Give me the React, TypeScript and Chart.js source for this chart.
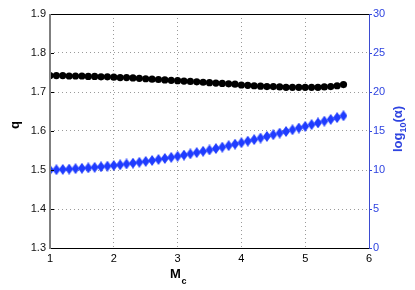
import React, { useEffect, useRef } from 'react';
import { Chart, registerables } from 'chart.js';
Chart.register(...registerables);

const mcValues = [
  1.0, 1.1, 1.2, 1.3, 1.4, 1.5, 1.6, 1.7, 1.8, 1.9,
  2.0, 2.1, 2.2, 2.3, 2.4, 2.5, 2.6, 2.7, 2.8, 2.9,
  3.0, 3.1, 3.2, 3.3, 3.4, 3.5, 3.6, 3.7, 3.8, 3.9,
  4.0, 4.1, 4.2, 4.3, 4.4, 4.5, 4.6, 4.7, 4.8, 4.9,
  5.0, 5.1, 5.2, 5.3, 5.4, 5.5, 5.6,
];
const qValues = [
  1.742, 1.742, 1.742, 1.741, 1.741, 1.741, 1.740, 1.740, 1.739, 1.739,
  1.738, 1.737, 1.737, 1.736, 1.735, 1.734, 1.733, 1.732, 1.731, 1.730,
  1.729, 1.728, 1.727, 1.726, 1.725, 1.724, 1.723, 1.722, 1.721, 1.720,
  1.718, 1.717, 1.716, 1.715, 1.714, 1.714, 1.713, 1.712, 1.712, 1.712,
  1.712, 1.712, 1.712, 1.713, 1.714, 1.716, 1.719,
];
const logAlphaValues = [
  10.00, 10.04, 10.08, 10.12, 10.17, 10.22, 10.28, 10.34, 10.41, 10.49,
  10.58, 10.67, 10.77, 10.88, 10.99, 11.10, 11.22, 11.35, 11.48, 11.62,
  11.76, 11.91, 12.07, 12.23, 12.40, 12.57, 12.75, 12.93, 13.12, 13.31,
  13.50, 13.70, 13.90, 14.10, 14.31, 14.52, 14.73, 14.94, 15.16, 15.38,
  15.60, 15.82, 16.04, 16.26, 16.49, 16.72, 16.95,
];
const xTicks = [1, 2, 3, 4, 5, 6];
const qTicks = [1.3, 1.4, 1.5, 1.6, 1.7, 1.8, 1.9];
const alphaTicks = [0, 5, 10, 15, 20, 25, 30];

const BLUE = '#1f3cff';
const BLUE_TEXT = '#2f44e0';
const FONT = '"Liberation Sans", Arial, Helvetica, sans-serif';

function makeDiamond(): HTMLCanvasElement {
  const c = document.createElement('canvas');
  c.width = 8;
  c.height = 11;
  const g = c.getContext('2d')!;
  g.fillStyle = BLUE;
  g.beginPath();
  g.moveTo(4, 0);
  g.lineTo(8, 5.5);
  g.lineTo(4, 11);
  g.lineTo(0, 5.5);
  g.closePath();
  g.fill();
  return c;
}

const framePlugin = {
  id: 'frame',
  afterDraw(chart: any) {
    const { ctx, chartArea } = chart;
    const { left, right, top, bottom } = chartArea;
    const yS = chart.scales.y;
    const y1S = chart.scales.y1;
    ctx.save();
    // inward ticks left
    ctx.strokeStyle = '#000';
    ctx.lineWidth = 1;
    qTicks.forEach((v) => {
      const py = Math.round(yS.getPixelForValue(v)) + 0.5;
      ctx.beginPath();
      ctx.moveTo(left, py);
      ctx.lineTo(left + 4, py);
      ctx.stroke();
    });
    // right ticks
    ctx.strokeStyle = BLUE_TEXT;
    alphaTicks.forEach((v) => {
      const py = Math.round(y1S.getPixelForValue(v)) + 0.5;
      ctx.beginPath();
      ctx.moveTo(right, py);
      ctx.lineTo(right + 3, py);
      ctx.stroke();
    });
    // frame
    ctx.strokeStyle = '#000';
    ctx.lineWidth = 1;
    ctx.beginPath();
    ctx.moveTo(left, Math.round(top) + 0.5);
    ctx.lineTo(right, Math.round(top) + 0.5);
    ctx.moveTo(left, Math.round(bottom) + 0.5);
    ctx.lineTo(right, Math.round(bottom) + 0.5);
    ctx.stroke();
    ctx.strokeStyle = '#7f7f7f';
    ctx.lineWidth = 2;
    ctx.beginPath();
    ctx.moveTo(Math.round(left), top);
    ctx.lineTo(Math.round(left), bottom + 1);
    ctx.stroke();
    ctx.strokeStyle = '#3b4bd0';
    ctx.lineWidth = 1;
    ctx.beginPath();
    ctx.moveTo(Math.round(right) + 0.5, top);
    ctx.lineTo(Math.round(right) + 0.5, bottom + 1);
    ctx.stroke();

    // axis titles
    ctx.fillStyle = '#000';
    ctx.font = `bold 13px ${FONT}`;
    ctx.textBaseline = 'middle';
    ctx.textAlign = 'center';
    ctx.save();
    ctx.translate(15, 125);
    ctx.rotate(-Math.PI / 2);
    ctx.fillText('q', 0, 0);
    ctx.restore();

    // M_c
    ctx.textAlign = 'left';
    ctx.textBaseline = 'alphabetic';
    ctx.font = `bold 13px ${FONT}`;
    const mW = ctx.measureText('M').width;
    ctx.font = `bold 9px ${FONT}`;
    const cW = ctx.measureText('c').width;
    const startX = 178 - (mW + cW) / 2;
    ctx.font = `bold 13px ${FONT}`;
    ctx.fillText('M', startX, 278);
    ctx.font = `bold 9px ${FONT}`;
    ctx.fillText('c', startX + mW + 0.5, 284);

    // log10(α)
    ctx.save();
    ctx.fillStyle = BLUE_TEXT;
    ctx.translate(402, 129);
    ctx.rotate(-Math.PI / 2);
    ctx.font = `bold 13px ${FONT}`;
    const w1 = ctx.measureText('log').width;
    const w3 = ctx.measureText('(α)').width;
    ctx.font = `bold 9px ${FONT}`;
    const w2 = ctx.measureText('10').width;
    let x0 = -(w1 + w2 + w3) / 2;
    ctx.font = `bold 13px ${FONT}`;
    ctx.fillText('log', x0, 0);
    x0 += w1;
    ctx.font = `bold 9px ${FONT}`;
    ctx.fillText('10', x0, 4);
    x0 += w2;
    ctx.font = `bold 13px ${FONT}`;
    ctx.fillText('(α)', x0, 0);
    ctx.restore();
    ctx.restore();
  },
};

export default function App() {
  const ref = useRef<HTMLCanvasElement | null>(null);
  useEffect(() => {
    document.body.style.margin = '0';
    const canvas = ref.current!;
    const diamond = makeDiamond();
    const chart = new Chart(canvas, {
      type: 'scatter',
      data: {
        datasets: [
          {
            label: 'q',
            data: mcValues.map((x, i) => ({ x, y: qValues[i] })),
            yAxisID: 'y',
            pointStyle: 'circle',
            pointRadius: 3.6,
            backgroundColor: '#000',
            borderColor: '#000',
            borderWidth: 0,
            showLine: false,
          },
          {
            label: 'log10(alpha)',
            data: mcValues.map((x, i) => ({ x, y: logAlphaValues[i] })),
            yAxisID: 'y1',
            pointStyle: diamond as any,
            backgroundColor: BLUE,
            borderColor: BLUE,
            showLine: false,
          },
        ],
      },
      options: {
        responsive: false,
        animation: false,
        layout: { padding: { top: 14, left: 0, right: 0, bottom: 0 } },
        plugins: { legend: { display: false }, tooltip: { enabled: false } },
        scales: {
          x: {
            type: 'linear',
            min: 1,
            max: 6,
            afterBuildTicks: (s: any) => {
              s.ticks = xTicks.map((v) => ({ value: v }));
            },
            afterFit: (s: any) => {
              s.height = 42;
            },
            ticks: {
              color: '#000',
              font: { family: FONT, size: 11 },
              padding: 4,
              maxRotation: 0,
              callback: (v: any) => String(v),
            },
            grid: { color: '#9a9a9a', drawTicks: false, lineWidth: 1 },
            border: { display: false, dash: [1, 3] },
          },
          y: {
            type: 'linear',
            position: 'left',
            min: 1.3,
            max: 1.9,
            afterBuildTicks: (s: any) => {
              s.ticks = qTicks.map((v) => ({ value: v }));
            },
            afterFit: (s: any) => {
              s.width = 50;
            },
            ticks: {
              color: '#111',
              font: { family: FONT, size: 11 },
              padding: 4,
              callback: (v: any) => Number(v).toFixed(1),
            },
            grid: { color: '#9a9a9a', drawTicks: false, lineWidth: 1 },
            border: { display: false, dash: [1, 3] },
          },
          y1: {
            type: 'linear',
            position: 'right',
            min: 0,
            max: 30,
            afterBuildTicks: (s: any) => {
              s.ticks = alphaTicks.map((v) => ({ value: v }));
            },
            afterFit: (s: any) => {
              s.width = 46;
            },
            ticks: {
              color: BLUE_TEXT,
              font: { family: FONT, size: 11 },
              padding: 4,
              callback: (v: any) => String(v),
            },
            grid: { display: false, drawTicks: false },
            border: { display: false },
          },
        },
      },
      plugins: [framePlugin],
    });
    return () => chart.destroy();
  }, []);
  return <canvas ref={ref} width={415} height={290} style={{ display: 'block' }} />;
}
